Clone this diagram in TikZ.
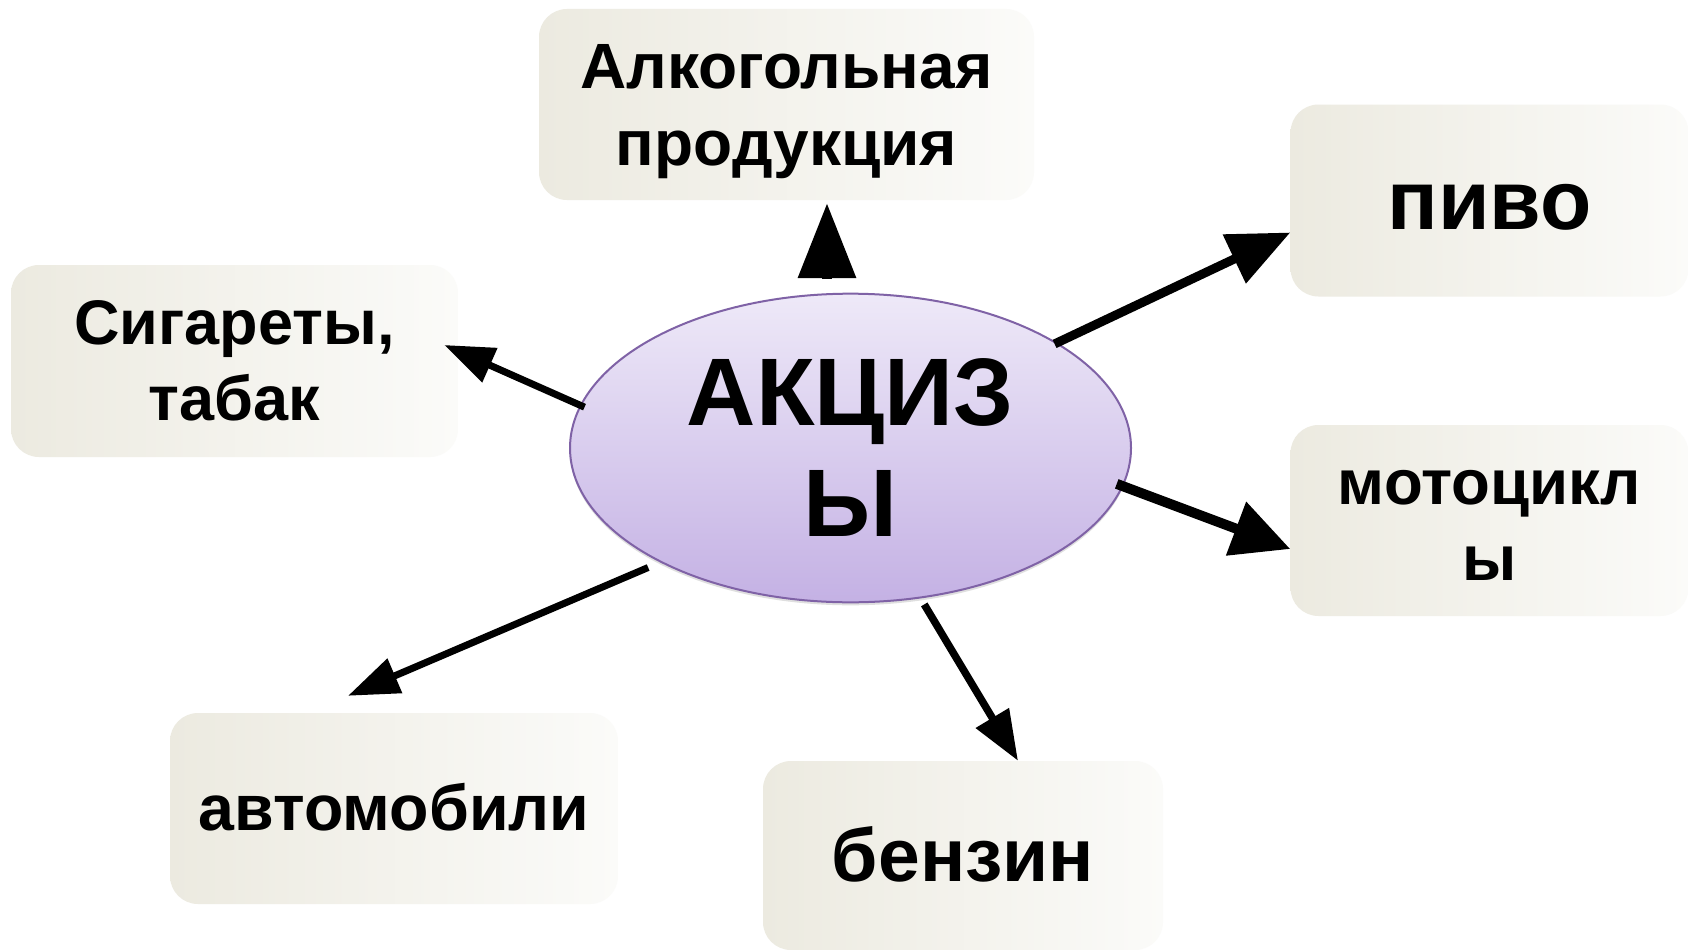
\documentclass[tikz,border=0pt]{standalone}
\usepackage{fontspec}
\setmainfont{Liberation Sans}
\usetikzlibrary{arrows.meta,shapes.geometric,shadows,calc}
\definecolor{boxL}{HTML}{ECEAE0}
\definecolor{boxR}{HTML}{FBFBF9}
\definecolor{ellT}{HTML}{EEE9F8}
\definecolor{ellB}{HTML}{C4B1E4}
\definecolor{ellD}{HTML}{7F62A6}
\newcommand\ls{\rule[-0.212em]{0pt}{1.117em}}
\begin{document}
\begin{tikzpicture}[x=1pt,y=-1pt,
  box/.style={rounded corners=28pt, left color=boxL, right color=boxR, draw=none,
    inner sep=0pt, align=center},
  arr/.style n args={3}{line width=#1, -{Triangle[length=#2,width=#3]}}
]
\fill[white] (0,0) rectangle (1689,950);
\useasboundingbox (0,0) rectangle (1689,950);

\node[box, minimum width=495pt, minimum height=191pt, font=\bfseries\fontsize{64}{77}\selectfont]
  (alc) at (786.5,104.5) {\ls Алкогольная\\\ls продукция};
\node[box, minimum width=398pt, minimum height=192pt, font=\bfseries\fontsize{84}{100}\selectfont]
  (pivo) at (1489.5,200.5) {\ls пиво};
\node[box, minimum width=447pt, minimum height=192pt, font=\bfseries\fontsize{63}{76}\selectfont]
  (sig) at (234.5,361) {\ls Сигареты,\\\ls табак};
\node[box, minimum width=398pt, minimum height=191pt, font=\bfseries\fontsize{63.5}{76}\selectfont]
  (moto) at (1489.5,520.5) {\ls мотоцикл\\\ls ы};
\node[box, minimum width=448pt, minimum height=191pt, font=\bfseries\fontsize{64.5}{78}\selectfont]
  (avto) at (394,808.5) {\ls автомобили};
\node[box, minimum width=400pt, minimum height=189pt, font=\bfseries\fontsize{75}{90}\selectfont]
  (benz) at (963,855.5) {\ls бензин};

\node[ellipse, minimum width=561pt, minimum height=304pt, top color=ellT, bottom color=ellB,
  draw=ellD, line width=2pt, inner sep=0pt, align=center,
  drop shadow={shadow xshift=0pt, shadow yshift=-3pt, opacity=0.25},
  font=\bfseries\fontsize{96}{111}\selectfont]
  (e) at (850.5,448) {\ls АКЦИЗ\\\ls Ы};

\draw[arr={10pt}{75pt}{56pt}] ($(e.north)+(-23.5,-14)$) -- ($(alc.south)+(40.5,3)$);
\draw[arr={9pt}{62pt}{52pt}, shorten <=-3pt] (e.27) -- ($(pivo.west)+(0,32)$);
\draw[arr={7pt}{50pt}{36pt}, shorten <=-5pt] (e.171) -- ($(sig.east)+(-14,-16)$);
\draw[arr={10pt}{58pt}{55pt}, shorten <=-7pt] (e.-8) -- ($(moto.west)+(0,28.5)$);
\draw[arr={7pt}{51pt}{36pt}, shorten <=13pt] (e.211.6) -- ($(avto.north)+(-46,-17)$);
\draw[arr={7.5pt}{50pt}{37pt}, shorten <=7pt] (e.-65.8) -- ($(benz.north)+(55,0)$);
\end{tikzpicture}
\end{document}
